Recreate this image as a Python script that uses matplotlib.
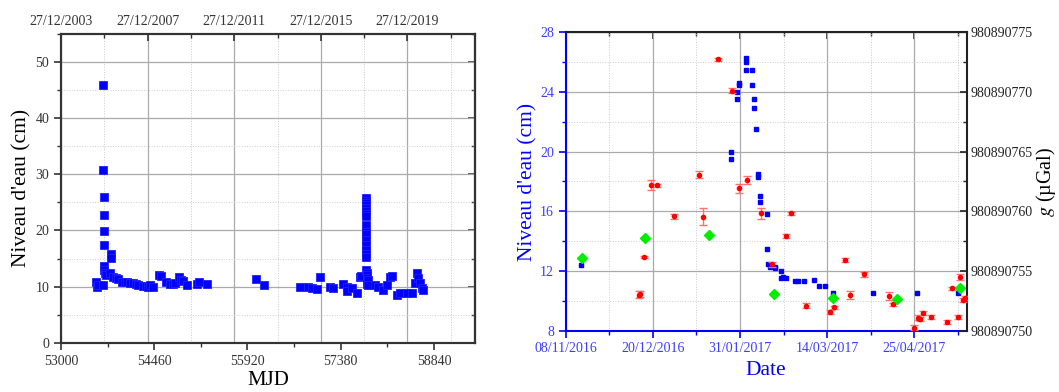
import matplotlib
matplotlib.use('Agg')
import matplotlib.pyplot as plt
import matplotlib.dates as mdates
from matplotlib.ticker import FixedLocator, MultipleLocator, FuncFormatter, NullFormatter
import numpy as np
import pandas as pd
from datetime import datetime, timedelta

plt.rcParams['font.family'] = ['Liberation Serif', 'DejaVu Serif']
plt.rcParams['mathtext.fontset'] = 'stix'

# left panel: water level vs MJD
mjd = [53548, 53559, 53575, 53653, 53663, 53665, 53666, 53667, 53668, 53669,
       53672, 53676, 53690, 53710, 53768, 53783, 53790, 53819, 53860, 53898,
       53951, 54000, 54029, 54080, 54133, 54180, 54206, 54289, 54330, 54368,
       54400, 54436, 54540, 54560, 54645, 54708, 54750, 54786, 54849, 54880,
       54916, 54969, 55126, 55166, 55282, 56050, 56180, 56744, 56865, 56927,
       57006, 57057, 57214, 57266, 57413, 57476, 57485, 57554, 57632, 57685,
       57700,
       57778, 57778, 57778, 57778, 57778, 57779, 57779, 57779, 57780, 57780,
       57780, 57781, 57781, 57782, 57782, 57783, 57784, 57785, 57786, 57787,
       57788, 57790,
       57814, 57814, 57919, 57971, 58049, 58102, 58154, 58180, 58258, 58310,
       58415, 58493, 58545, 58572, 58597, 58624, 58650, 58675]
level = [10.9, 10.0, 10.3, 10.3, 45.9, 30.7, 26.0, 22.7, 19.9, 17.4,
         13.6, 13.0, 12.4, 12.1, 12.4, 15.8, 15.1, 11.7, 11.5, 11.3,
         10.9, 10.8, 10.8, 10.7, 10.6, 10.4, 10.3, 10.1, 10.2, 9.9,
         10.3, 10.0, 12.0, 11.9, 10.9, 10.4, 10.5, 10.7, 11.7, 11.2,
         11.1, 10.3, 10.4, 10.9, 10.4, 11.4, 10.3, 9.9, 9.9, 9.7,
         9.55, 11.7, 9.9, 9.7, 10.4, 9.9, 9.3, 9.7, 8.85, 11.8,
         11.9,
         25.7, 25.3, 24.9, 24.5, 24.0, 23.5, 23.0, 22.5, 21.0, 19.7,
         19.3, 18.3, 17.5, 16.5, 15.8, 15.2, 13.0, 12.5, 12.0, 11.5,
         11.0, 10.5,
         11.2, 10.3, 10.3, 10.0, 9.4, 10.3, 11.8, 11.9, 8.5, 8.85,
         8.85, 8.85, 10.6, 12.4, 11.5, 10.6, 9.7, 9.4]

# right panel: days since 08/11/2016
blue_days = [7.4, 79.7, 79.7, 82.6, 82.6, 83.7, 83.7, 86.8, 86.8, 86.8,
             89.7, 89.7, 90.8, 90.8, 91.8, 92.7, 92.7, 93.7, 93.7, 96.8,
             96.8, 97.7, 98.5, 100.9, 100.9, 103.8, 103.8, 104.9, 106.0, 110.7,
             111.9, 114.9, 119.9, 122.0, 124.9, 128.9, 148.0, 169.2, 189.3]
blue_level = [12.4, 20.0, 19.5, 24.0, 23.5, 24.5, 24.6, 26.3, 26.0, 25.5,
              25.5, 24.5, 23.5, 22.9, 21.5, 18.5, 18.3, 17.0, 16.6, 15.8,
              13.5, 12.5, 12.3, 12.3, 12.2, 12.0, 11.5, 11.6, 11.5, 11.3,
              11.3, 11.3, 11.4, 11.0, 11.0, 10.5, 10.5, 10.5, 10.5]

red_days = [35.5, 36.0, 37.9, 41.1, 44.0, 52.1, 64.3, 66.2, 73.3, 80.2,
            83.3, 87.3, 94.3, 99.3, 106.4, 108.5, 115.6, 127.4, 129.5, 134.7,
            136.8, 143.7, 155.7, 157.8, 168.0, 169.7, 170.8, 172.0, 176.0, 184.0,
            186.1, 189.0, 190.1, 191.3, 192.6]
red_g = [980890753.0, 980890753.08, 980890756.17, 980890762.2, 980890762.2,
         980890759.57, 980890763.07, 980890759.56, 980890772.73, 980890770.1,
         980890761.93, 980890762.62, 980890759.83, 980890755.55, 980890757.94,
         980890759.83, 980890752.1, 980890751.59, 980890751.95, 980890755.93,
         980890752.96, 980890754.73, 980890752.91, 980890752.21, 980890750.26,
         980890751.1, 980890750.98, 980890751.46, 980890751.17, 980890750.71,
         980890753.54, 980890751.17, 980890754.5, 980890752.57, 980890752.73]
red_err = [0.3, 0.22, 0.08, 0.45, 0.12, 0.22, 0.3, 0.7, 0.12, 0.22,
           0.37, 0.37, 0.45, 0.22, 0.18, 0.15, 0.18, 0.15, 0.15, 0.18,
           0.33, 0.22, 0.33, 0.15, 0.22, 0.18, 0.18, 0.15, 0.18, 0.15,
           0.15, 0.18, 0.22, 0.15, 0.15]

green_days = [7.7, 38.1, 69.3, 100.6, 128.7, 159.8, 190.1]
green_g = [980890756.12, 980890757.74, 980890758.01, 980890753.08,
           980890752.72, 980890752.66, 980890753.57]

blue = '#0000ff'
fig = plt.figure(figsize=(10.59, 3.92), dpi=100)

# ---------- left panel ----------
ax1 = fig.add_axes([0.0576, 0.125, 0.391, 0.7895])
ax1.plot(mjd, level, 's', color=blue, ms=6, mec='#2020ff', mew=0.6, zorder=3)
ax1.set_xlim(53000, 59485)
ax1.set_ylim(0, 55)
ax1.xaxis.set_major_locator(FixedLocator([53000 + 1460 * k for k in range(5)]))
ax1.xaxis.set_minor_locator(FixedLocator([53730 + 1460 * k for k in range(5)]))
ax1.yaxis.set_major_locator(MultipleLocator(10))
ax1.yaxis.set_minor_locator(MultipleLocator(5))
ax1.yaxis.grid(True, which='major', color='#aaaaaa', lw=0.9)
ax1.yaxis.grid(True, which='minor', color='#cccccc', lw=0.7, ls=':')
ax1.tick_params(which='major', direction='out', length=5, width=1.2, labelsize=10,
                colors='#333333')
ax1.tick_params(which='minor', direction='out', length=3, width=1, colors='#333333')
ax1.tick_params(top=False, right=False)
for s in ax1.spines.values():
    s.set_color('#333333')
    s.set_linewidth(1.5)
ax1.set_xlabel('MJD', fontsize=15, labelpad=2)
ax1.set_ylabel("Niveau d'eau (cm)", fontsize=15.5, labelpad=3)
ax1.patch.set_visible(False)

top = ax1.twiny()
top_ticks = [53000 + 1461 * k for k in range(5)]
top.set_xlim(53000, 59984.5)
top.xaxis.set_major_locator(FixedLocator(top_ticks))
top.xaxis.set_minor_locator(FixedLocator([t + 730.5 for t in top_ticks]))
top.set_xticklabels([(datetime(1858, 11, 17) + timedelta(days=t)).strftime('%d/%m/%Y')
                     for t in top_ticks])
top.xaxis.grid(True, which='major', color='#aaaaaa', lw=0.9)
top.xaxis.grid(True, which='minor', color='#cccccc', lw=0.7, ls=':')
top.tick_params(which='major', direction='in', length=5, width=1.2, labelsize=10,
                colors='#333333', pad=4)
top.tick_params(which='minor', direction='in', length=3, width=1, colors='#333333')
for s in top.spines.values():
    s.set_color('#333333')
    s.set_linewidth(1.5)
top.set_zorder(ax1.get_zorder() - 1)
top.patch.set_visible(True)
top.patch.set_facecolor('white')

sec1 = ax1.secondary_yaxis('right')
sec1.yaxis.set_major_locator(MultipleLocator(10))
sec1.yaxis.set_minor_locator(MultipleLocator(5))
sec1.yaxis.set_major_formatter(NullFormatter())
sec1.tick_params(which='major', direction='in', length=5, width=1.2, colors='#333333')
sec1.tick_params(which='minor', direction='in', length=3, width=1, colors='#333333')
sec1.spines['right'].set_color('#333333')
sec1.spines['right'].set_linewidth(1.5)

# ---------- right panel ----------
start = pd.Timestamp('2016-11-08')
def to_dates(days):
    return start + pd.to_timedelta(days, unit='D')

ax2 = fig.add_axes([0.5342, 0.1564, 0.3787, 0.7612])
ax2.plot(to_dates(blue_days), blue_level, 's', color=blue, ms=3.2, zorder=3)
ax2.set_xlim(start, start + pd.Timedelta(days=193.3))
ax2.set_ylim(8, 28)
major_dates = [start + pd.Timedelta(days=42 * k) for k in range(5)]
minor_dates = [start + pd.Timedelta(days=21 + 42 * k) for k in range(5)]
ax2.xaxis.set_major_locator(FixedLocator(mdates.date2num(major_dates)))
ax2.xaxis.set_minor_locator(FixedLocator(mdates.date2num(minor_dates)))
ax2.xaxis.set_major_formatter(mdates.DateFormatter('%d/%m/%Y'))
ax2.yaxis.set_major_locator(MultipleLocator(4))
ax2.yaxis.set_minor_locator(MultipleLocator(2))
ax2.grid(True, which='major', color='#aaaaaa', lw=0.9)
ax2.grid(True, which='minor', color='#cccccc', lw=0.7, ls=':')
ax2.tick_params(which='major', direction='out', length=5, width=1.2, labelsize=10,
                colors=blue, labelcolor='#3c3cff')
ax2.tick_params(which='minor', direction='out', length=3, width=1, colors=blue)
ax2.spines['left'].set_color(blue)
ax2.spines['bottom'].set_color(blue)
ax2.spines['left'].set_linewidth(1.5)
ax2.spines['bottom'].set_linewidth(1.5)
ax2.spines['top'].set_color('#222222')
ax2.spines['right'].set_visible(False)
ax2.set_xlabel('Date', fontsize=15.5, color=blue, labelpad=4)
ax2.set_ylabel("Niveau d'eau (cm)", fontsize=15.5, color=blue, labelpad=2)

sec2 = ax2.secondary_xaxis('top')
sec2.xaxis.set_major_locator(FixedLocator(mdates.date2num(major_dates)))
sec2.xaxis.set_minor_locator(FixedLocator(mdates.date2num(minor_dates)))
sec2.xaxis.set_major_formatter(NullFormatter())
sec2.tick_params(which='major', direction='in', length=5, width=1.2, colors='#222222')
sec2.tick_params(which='minor', direction='in', length=3, width=1, colors='#222222')
sec2.spines['top'].set_color('#222222')
sec2.spines['top'].set_linewidth(1.5)

tw = ax2.twinx()
tw.errorbar(to_dates(red_days), red_g, yerr=red_err, fmt='o', color='#ff0000',
            ms=3, ecolor='#ff7070', elinewidth=1, capsize=3, capthick=1, zorder=4)
tw.plot(to_dates(green_days), green_g, 'D', color='#00ee00', ms=5.5, zorder=5)
tw.set_ylim(980890750, 980890775)
tw.yaxis.set_major_locator(MultipleLocator(5))
tw.yaxis.set_minor_locator(MultipleLocator(2.5))
tw.yaxis.set_major_formatter(FuncFormatter(lambda v, p: f'{v:.0f}'))
tw.tick_params(which='major', direction='in', length=5, width=1.2, labelsize=10,
               colors='#222222', pad=3)
tw.tick_params(which='minor', direction='in', length=3, width=1, colors='#222222')
for side in ['left', 'bottom', 'top']:
    tw.spines[side].set_visible(False)
tw.spines['right'].set_color('#222222')
tw.spines['right'].set_linewidth(1.5)
tw.set_ylabel('$g$ (µGal)', fontsize=14.5, labelpad=1)

fig.savefig('out.png', dpi=100)
